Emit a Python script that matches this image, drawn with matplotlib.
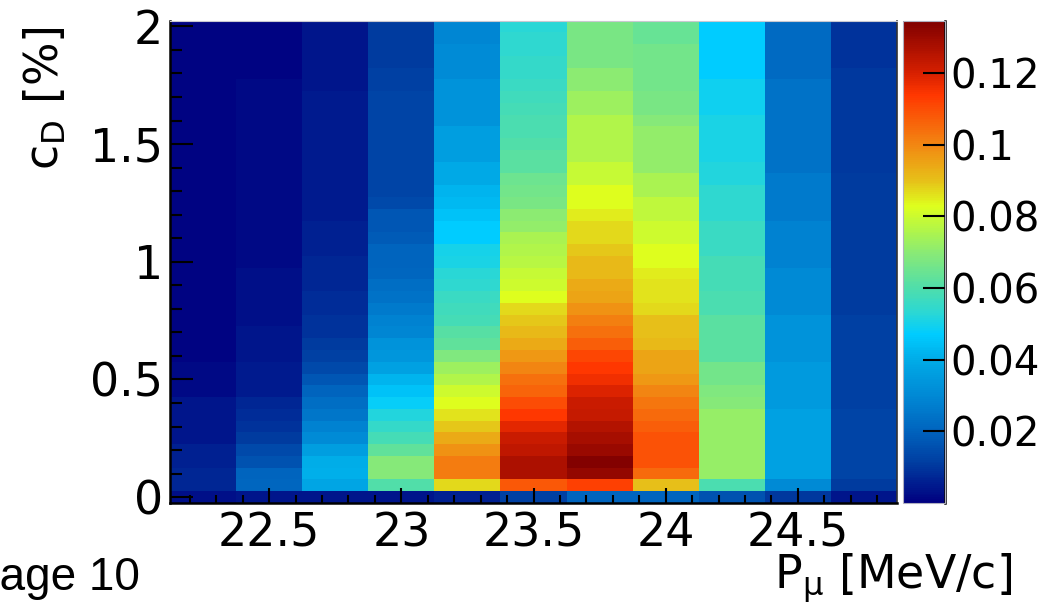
import numpy as np
import matplotlib
matplotlib.use('Agg')
import matplotlib.pyplot as plt
from matplotlib.colors import LinearSegmentedColormap

# muon momentum bin centres [MeV/c]
p_mu = [22.25, 22.5, 22.75, 23.0, 23.25, 23.5, 23.75, 24.0, 24.25, 24.5, 24.75]

# deuterium concentration bin centres [%]
c_d = [0.0, 0.05, 0.1, 0.15, 0.2, 0.25, 0.3, 0.35, 0.4, 0.45,
       0.5, 0.55, 0.6, 0.65, 0.7, 0.75, 0.8, 0.85, 0.9, 0.95,
       1.0, 1.05, 1.1, 1.15, 1.2, 1.25, 1.3, 1.35, 1.4, 1.45,
       1.5, 1.55, 1.6, 1.65, 1.7, 1.75, 1.8, 1.85, 1.9, 1.95, 2.0]

# bin contents, one list per momentum bin, from c_D = 0 upwards
z_2225 = [0.003, 0.007, 0.007, 0.006, 0.006, 0.004, 0.004, 0.004, 0.004, 0.002,
          0.002, 0.002, 0.001, 0.001, 0.001, 0.001, 0.001, 0.001, 0.001, 0.001,
          0.001, 0.001, 0.001, 0.001, 0.001, 0.001, 0.001, 0.001, 0.001, 0.001,
          0.001, 0.001, 0.001, 0.001, 0.001, 0.001, 0.001, 0.001, 0.001, 0.001, 0.001]
z_2250 = [0.004, 0.021, 0.020, 0.016, 0.014, 0.011, 0.009, 0.008, 0.007, 0.005,
          0.005, 0.005, 0.004, 0.004, 0.004, 0.003, 0.003, 0.003, 0.003, 0.003,
          0.002, 0.002, 0.002, 0.002, 0.002, 0.002, 0.002, 0.002, 0.002, 0.002,
          0.002, 0.002, 0.002, 0.002, 0.002, 0.002, 0.001, 0.001, 0.001, 0.001, 0.001]
z_2275 = [0.004, 0.038, 0.041, 0.040, 0.036, 0.031, 0.028, 0.025, 0.023, 0.020,
          0.017, 0.014, 0.012, 0.011, 0.009, 0.009, 0.008, 0.008, 0.007, 0.007,
          0.007, 0.006, 0.006, 0.006, 0.005, 0.005, 0.005, 0.005, 0.005, 0.005,
          0.005, 0.005, 0.005, 0.005, 0.005, 0.004, 0.004, 0.004, 0.004, 0.004, 0.004]
z_2300 = [0.004, 0.060, 0.069, 0.069, 0.063, 0.058, 0.055, 0.052, 0.048, 0.045,
          0.042, 0.037, 0.034, 0.033, 0.029, 0.028, 0.026, 0.024, 0.023, 0.021,
          0.020, 0.020, 0.018, 0.017, 0.017, 0.014, 0.013, 0.013, 0.013, 0.013,
          0.013, 0.013, 0.013, 0.013, 0.013, 0.012, 0.012, 0.011, 0.011, 0.011, 0.011]
z_2325 = [0.006, 0.087, 0.102, 0.102, 0.098, 0.094, 0.089, 0.086, 0.083, 0.080,
          0.076, 0.073, 0.068, 0.063, 0.061, 0.058, 0.057, 0.056, 0.054, 0.053,
          0.051, 0.050, 0.047, 0.047, 0.045, 0.043, 0.042, 0.039, 0.039, 0.036,
          0.036, 0.036, 0.033, 0.033, 0.033, 0.033, 0.031, 0.031, 0.031, 0.029, 0.029]
z_2350 = [0.012, 0.108, 0.127, 0.127, 0.124, 0.122, 0.118, 0.114, 0.110, 0.106,
          0.104, 0.100, 0.097, 0.094, 0.091, 0.089, 0.087, 0.083, 0.080, 0.079,
          0.077, 0.076, 0.075, 0.071, 0.070, 0.067, 0.066, 0.065, 0.062, 0.062,
          0.060, 0.059, 0.059, 0.058, 0.057, 0.056, 0.055, 0.055, 0.054, 0.054, 0.053]
z_2375 = [0.020, 0.112, 0.131, 0.134, 0.130, 0.128, 0.126, 0.123, 0.122, 0.119,
          0.116, 0.114, 0.111, 0.107, 0.104, 0.101, 0.098, 0.095, 0.094, 0.091,
          0.091, 0.089, 0.087, 0.087, 0.085, 0.083, 0.083, 0.079, 0.079, 0.076,
          0.076, 0.076, 0.076, 0.073, 0.073, 0.070, 0.070, 0.067, 0.067, 0.067, 0.067]
z_2400 = [0.020, 0.090, 0.105, 0.109, 0.109, 0.109, 0.107, 0.105, 0.103, 0.100,
          0.097, 0.095, 0.095, 0.091, 0.090, 0.090, 0.087, 0.086, 0.086, 0.085,
          0.083, 0.083, 0.080, 0.080, 0.078, 0.078, 0.075, 0.075, 0.071, 0.071,
          0.071, 0.071, 0.069, 0.067, 0.067, 0.066, 0.066, 0.066, 0.066, 0.064, 0.064]
z_2425 = [0.016, 0.059, 0.072, 0.072, 0.072, 0.072, 0.072, 0.072, 0.069, 0.068,
          0.066, 0.066, 0.062, 0.062, 0.062, 0.062, 0.059, 0.059, 0.058, 0.058,
          0.058, 0.056, 0.056, 0.056, 0.054, 0.054, 0.054, 0.052, 0.052, 0.051,
          0.051, 0.051, 0.051, 0.049, 0.049, 0.049, 0.047, 0.047, 0.047, 0.047, 0.047]
z_2450 = [0.010, 0.030, 0.037, 0.037, 0.037, 0.037, 0.037, 0.037, 0.035, 0.035,
          0.035, 0.035, 0.033, 0.033, 0.033, 0.033, 0.030, 0.030, 0.030, 0.030,
          0.028, 0.028, 0.028, 0.028, 0.026, 0.026, 0.026, 0.026, 0.024, 0.024,
          0.024, 0.024, 0.024, 0.024, 0.024, 0.024, 0.022, 0.022, 0.022, 0.022, 0.022]
z_2475 = [0.004, 0.011, 0.013, 0.013, 0.013, 0.013, 0.013, 0.013, 0.012, 0.012,
          0.012, 0.012, 0.012, 0.012, 0.012, 0.012, 0.011, 0.011, 0.011, 0.011,
          0.011, 0.011, 0.011, 0.011, 0.011, 0.011, 0.011, 0.011, 0.010, 0.010,
          0.010, 0.010, 0.010, 0.010, 0.010, 0.010, 0.010, 0.009, 0.009, 0.009, 0.009]

z_max = 0.1346
cbar_ticks = [0.02, 0.04, 0.06, 0.08, 0.1, 0.12]
cbar_labels = ['0.02', '0.04', '0.06', '0.08', '0.1', '0.12']
x_ticks = [22.5, 23.0, 23.5, 24.0, 24.5]
x_labels = ['22.5', '23', '23.5', '24', '24.5']
y_ticks = [0.0, 0.5, 1.0, 1.5, 2.0]
y_labels = ['0', '0.5', '1', '1.5', '2']

# rainbow palette (fraction of z range, colour)
palette = [(0.000, '#000080'), (0.080, '#003ca0'), (0.149, '#0064be'),
           (0.218, '#0087d4'), (0.297, '#00ace8'), (0.349, '#00ccff'),
           (0.391, '#28d7d7'), (0.446, '#50deaa'), (0.515, '#87e978'),
           (0.563, '#aff54b'), (0.615, '#deff1e'), (0.666, '#e6c319'),
           (0.743, '#f28712'), (0.847, '#ff3700'), (0.892, '#d72000'),
           (1.000, '#800000')]
cmap = LinearSegmentedColormap.from_list('rootrainbow', palette, N=256)

z = np.array([z_2225, z_2250, z_2275, z_2300, z_2325, z_2350,
              z_2375, z_2400, z_2425, z_2450, z_2475]).T

xc = np.array(p_mu)
yc = np.array(c_d)
dx = xc[1] - xc[0]
dy = yc[1] - yc[0]
x_edges = np.append(xc - dx / 2, xc[-1] + dx / 2)
y_edges = np.append(yc - dy / 2, yc[-1] + dy / 2)

W, H = 1059, 609
fig = plt.figure(figsize=(W / 100, H / 100), dpi=100)
plt.rcParams['mathtext.fontset'] = 'dejavusans'

ax = fig.add_axes([170 / W, 106 / H, 727 / W, 482.5 / H])
cax = fig.add_axes([903 / W, 106 / H, 42 / W, 482.5 / H])

mesh = ax.pcolormesh(x_edges, y_edges, z, cmap=cmap, vmin=0, vmax=z_max,
                     shading='flat')
ax.set_xlim(x_edges[0], x_edges[-1])
ax.set_ylim(y_edges[0], y_edges[-1])

ax.set_xticks(x_ticks)
ax.set_xticklabels(x_labels)
ax.set_xticks(np.arange(22.2, 24.85, 0.1), minor=True)
ax.set_yticks(y_ticks)
ax.set_yticklabels(y_labels)
ax.set_yticks(np.arange(0.0, 2.01, 0.1), minor=True)

fs = 33
ax.tick_params(axis='x', which='major', direction='in', length=11, width=1.5,
               labelsize=fs, pad=6, top=False)
ax.tick_params(axis='x', which='minor', direction='in', length=6, width=1.5,
               top=False)
ax.tick_params(axis='y', which='major', direction='in', length=16.5, width=1.5,
               labelsize=fs, pad=5, right=False)
ax.tick_params(axis='y', which='minor', direction='in', length=8.5, width=1.5,
               right=False)

for side in ['left', 'bottom']:
    ax.spines[side].set_linewidth(1.8)
    ax.spines[side].set_color('black')
ax.spines['right'].set_color('#333333')
ax.spines['right'].set_linewidth(1.2)
ax.spines['top'].set_color('#c8c8d0')
ax.spines['top'].set_linewidth(0.8)

cb = fig.colorbar(mesh, cax=cax)
cb.set_ticks(cbar_ticks)
cb.set_ticklabels(cbar_labels)
cb.outline.set_edgecolor('#b0b0c0')
cb.outline.set_linewidth(0.8)
cax.plot([1, 1], [0, 1], transform=cax.transAxes, color='black', lw=1.8,
         clip_on=False)
cax.tick_params(direction='in', length=16, width=1.5, labelsize=29, pad=4,
                right=True, left=False)
cax.minorticks_off()

ax.set_ylabel(r'c$_{\mathrm{D}}$ [%]', fontsize=33)
ax.yaxis.set_label_coords(-0.139, 0.839)
fig.text(1012 / W, 1 - 578 / H, r'P$_{\mathrm{μ}}$ [MeV/c]', fontsize=33,
         ha='right', va='center')
fig.text(-31 / W, 1 - 578 / H, 'Page 10', fontsize=33,
         family='Liberation Sans', ha='left', va='center')

fig.savefig('out.png', dpi=100)
